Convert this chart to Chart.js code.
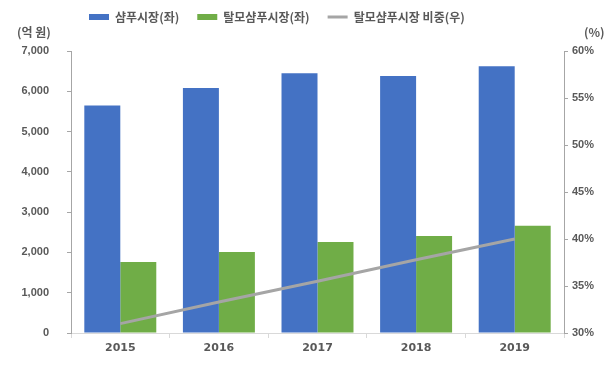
<!DOCTYPE html>
<html>
<head>
<meta charset="utf-8">
<script src="https://cdn.jsdelivr.net/npm/chart.js@4.4.1/dist/chart.umd.min.js"></script>
<style>
  html, body { margin: 0; padding: 0; background: #fff; }
</style>
</head>
<body>
<canvas id="chart" width="614" height="365"></canvas>
<script>
// data
const years = ['2015', '2016', '2017', '2018', '2019'];
const shampooMarket = [5650, 6080, 6450, 6380, 6620];      // 억 원
const hairLossMarket = [1760, 2010, 2260, 2410, 2660];     // 억 원
const hairLossShare = [31.0, 33.3, 35.5, 37.8, 40.0];      // %
const seriesNames = ['샴푸시장(좌)', '탈모샴푸시장(좌)', '탈모샴푸시장 비중(우)'];
const leftTitle = '(억 원)';
const rightTitle = '(%)';

const textColor = '#595959';
const tickFont = { family: 'Liberation Sans', size: 11, weight: 'bold' };
const krFont = "'Noto Sans CJK KR', sans-serif";

// pin the plot area and draw the two axis titles
const layoutPlugin = {
    id: 'layoutFix',
    beforeInit(chart) {
        const fit = chart.legend.fit;
        chart.legend.fit = function () {
            fit.call(this);
            this.height = 51;
        };
    },
    afterLayout(chart) {
        chart.legend.top = -7;
        chart.legend.left = 71;
    },
    afterDraw(chart) {
        const ctx = chart.ctx;
        ctx.save();
        ctx.fillStyle = textColor;
        ctx.font = 'bold 12px ' + krFont;
        ctx.textBaseline = 'middle';
        ctx.textAlign = 'left';
        ctx.fillText(leftTitle, 17, 32);
        ctx.fillText(rightTitle, 584, 32);
        ctx.restore();
    }
};

const ctx = document.getElementById('chart').getContext('2d');
const chart = new Chart(ctx, {
    type: 'bar',
    data: {
        labels: years,
        datasets: [
            {
                type: 'line',
                label: seriesNames[2],
                data: hairLossShare,
                yAxisID: 'y1',
                borderColor: '#A5A5A5',
                backgroundColor: '#A5A5A5',
                borderWidth: 3,
                pointRadius: 0,
                tension: 0,
                order: 0,
                pointStyle: 'line'
            },
            {
                label: seriesNames[0],
                data: shampooMarket,
                backgroundColor: '#4472C4',
                barPercentage: 1,
                categoryPercentage: 0.73,
                order: 1,
                pointStyle: 'rect'
            },
            {
                label: seriesNames[1],
                data: hairLossMarket,
                backgroundColor: '#70AD47',
                barPercentage: 1,
                categoryPercentage: 0.73,
                order: 1,
                pointStyle: 'rect'
            }
        ]
    },
    options: {
        responsive: false,
        animation: false,
        layout: { padding: 0 },
        plugins: {
            tooltip: { enabled: false },
            legend: {
                position: 'top',
                align: 'start',
                fullSize: false,
                labels: {
                    usePointStyle: true,
                    pointStyleWidth: 20,
                    boxHeight: 6,
                    padding: 18,
                    color: textColor,
                    font: { family: krFont, size: 12, weight: 'bold' },
                    sort: (a, b) => (a.datasetIndex === 0 ? 1 : 0) - (b.datasetIndex === 0 ? 1 : 0)
                }
            }
        },
        scales: {
            x: {
                grid: {
                    display: true,
                    drawOnChartArea: false,
                    tickLength: 5,
                    color: '#D9D9D9'
                },
                border: { color: '#D9D9D9' },
                ticks: {
                    color: textColor,
                    font: { family: 'DejaVu Sans', size: 11, weight: 'bold' },
                    padding: 4
                },
                afterFit(scale) { scale.height = 32; }
            },
            y: {
                position: 'left',
                min: 0,
                max: 7000,
                grid: {
                    display: true,
                    drawOnChartArea: false,
                    tickLength: 4,
                    color: '#A6A6A6'
                },
                border: { color: '#A6A6A6' },
                ticks: {
                    stepSize: 1000,
                    color: textColor,
                    font: tickFont,
                    padding: 18,
                    callback: v => v.toLocaleString('en-US')
                },
                afterFit(scale) { scale.width = 71; }
            },
            y1: {
                position: 'right',
                min: 30,
                max: 60,
                grid: {
                    display: true,
                    drawOnChartArea: false,
                    tickLength: 4,
                    color: '#A6A6A6'
                },
                border: { color: '#A6A6A6' },
                ticks: {
                    stepSize: 5,
                    color: textColor,
                    font: tickFont,
                    padding: 4,
                    callback: v => v + '%'
                },
                afterFit(scale) { scale.width = 50; }
            }
        }
    },
    plugins: [layoutPlugin]
});
</script>
</body>
</html>
